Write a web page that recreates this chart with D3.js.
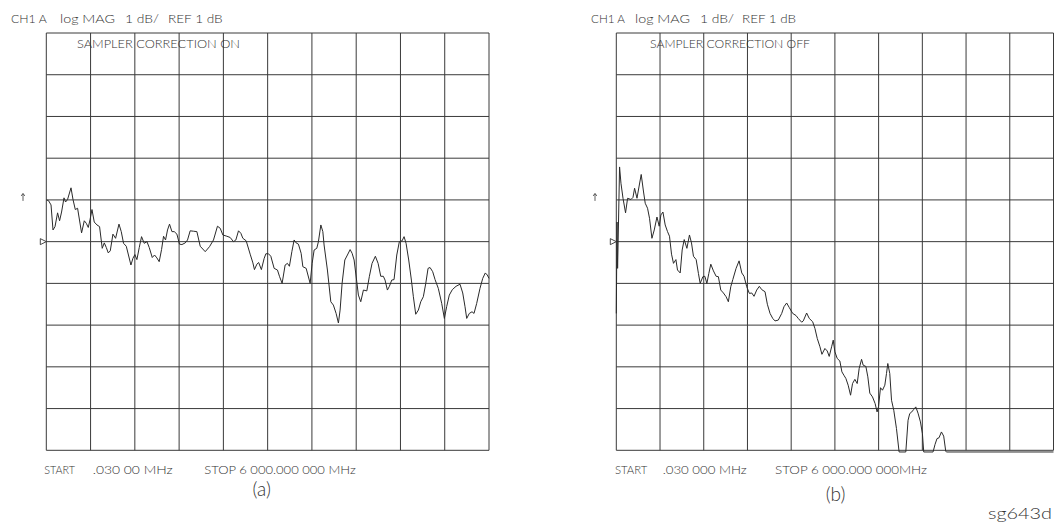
<!DOCTYPE html>
<html><head><meta charset="utf-8">
<script src="https://cdn.jsdelivr.net/npm/d3@7"></script>
<style>
html,body{margin:0;padding:0;background:#fff;}
svg{display:block;}
text{font-family:Lato,"DejaVu Sans",sans-serif;font-weight:300;fill:#333;}
</style>
</head><body>
<svg id="c" width="1054" height="523"></svg>
<script>
// ---------- data ----------
const startMHz = 0.03, stopMHz = 6000;
const refDb = 1, dbPerDiv = 1, divisions = 10;
const headerWords = ["CH1 A", "log MAG", "1 dB/", "REF 1 dB"];
const titles = ["SAMPLER CORRECTION ON", "SAMPLER CORRECTION OFF"];
const startWord = "START";
const startLabels = [".030 00 MHz", ".030 000 MHz"];
const stopLabels = ["STOP 6 000.000 000 MHz", "STOP 6 000.000 000MHz"];
const panelLabels = ["(a)", "(b)"];
const figureId = "sg643d";

// (a) sampler correction ON — frequency (MHz) and magnitude (dB)
const freqA = [4,31,64,91,118,153,180,207,240,261,288,335,362,393,424,478,515,542,569,592,619,650,687,722,758,786,813,840,867,903,939,985,1016,1047,1084,1147,1174,1201,1228,1260,1291,1327,1364,1395,1436,1467,1499,1530,1562,1589,1616,1643,1670,1703,1734,1770,1805,1838,1883,1914,1950,1995,2041,2086,2154,2212,2266,2320,2357,2393,2447,2492,2537,2569,2605,2637,2664,2709,2763,2800,2821,2854,2878,2915,2953,2976,3011,3043,3088,3133,3160,3196,3237,3268,3295,3328,3359,3386,3417,3454,3477,3522,3576,3603,3630,3666,3688,3721,3748,3765,3810,3856,3891,3928,3959,3982,4009,4046,4081,4118,4145,4172,4208,4230,4262,4298,4344,4379,4415,4460,4497,4533,4568,4591,4623,4650,4682,4713,4750,4785,4822,4849,4876,4912,4948,4975,5007,5043,5075,5110,5143,5174,5201,5237,5269,5313,5359,5395,5427,5462,5503,5553,5607,5644,5675,5698,5733,5770,5797,5833,5878,5915,5950,5977,6000];
const dbA = [2.00,1.98,1.88,1.28,1.36,1.69,1.50,1.71,2.05,1.95,2.01,2.29,2.01,1.77,1.80,1.21,1.50,1.44,1.34,1.52,1.77,1.47,1.40,1.36,0.84,0.97,0.86,0.73,0.78,1.18,1.08,1.42,1.24,0.96,0.89,0.44,0.60,0.69,0.57,0.86,1.12,0.96,1.00,0.86,0.62,0.68,0.61,0.52,0.81,1.13,1.04,1.28,1.42,1.24,1.24,1.18,0.94,0.93,0.97,1.04,1.26,1.25,1.24,0.89,0.76,0.88,1.04,1.37,1.32,1.16,1.13,1.10,1.00,1.04,1.26,1.20,1.08,1.02,0.70,0.49,0.33,0.46,0.50,0.33,0.60,0.71,0.71,0.65,0.36,0.32,0.17,0.00,0.44,0.48,0.41,0.76,1.04,0.97,0.94,0.72,0.40,0.36,0.00,0.48,0.80,0.84,1.00,1.40,1.24,0.92,0.32,-0.44,-0.52,-0.72,-0.95,-0.64,0.00,0.56,0.68,0.81,0.72,0.56,0.04,-0.28,-0.44,-0.16,-0.18,0.17,0.48,0.65,0.48,0.17,0.17,0.08,-0.16,-0.07,0.08,0.09,0.68,1.00,1.02,1.12,0.96,0.56,0.08,-0.32,-0.74,-0.64,-0.44,-0.32,0.00,0.36,0.38,0.28,0.09,-0.12,-0.48,-0.84,-0.55,-0.28,-0.15,-0.07,-0.02,-0.23,-0.56,-0.84,-0.72,-0.68,-0.72,-0.48,-0.12,0.12,0.25,0.20,0.12];

// (b) sampler correction OFF
const freqB = [0.03,10,18,45,64,92,127,155,201,229,251,284,311,342,374,397,429,456,489,521,558,589,612,640,671,703,730,758,785,818,840,877,904,932,969,1004,1032,1059,1096,1127,1151,1188,1215,1243,1270,1297,1333,1370,1401,1434,1470,1507,1538,1571,1599,1644,1685,1722,1753,1790,1826,1859,1890,1927,1963,1996,2041,2073,2110,2147,2178,2223,2270,2301,2338,2374,2421,2466,2497,2544,2566,2612,2648,2695,2726,2758,2795,2822,2863,2895,2922,2955,2977,3000,3032,3068,3096,3123,3151,3182,3215,3242,3274,3306,3333,3366,3388,3425,3452,3479,3516,3552,3579,3599,3626,3653,3685,3708,3726,3753,3777,3808,3845,3881,3973,4004,4027,4055,4082,4110,4141,4174,4201,4219,4347,4374,4401,4429,4462,4493,4521,4530,6000];
const dbB = [-0.72,1.47,0.36,2.79,2.40,2.04,1.69,2.04,2.01,2.06,2.28,2.04,2.31,2.61,2.19,1.92,1.80,1.56,1.08,1.28,1.59,1.37,1.64,1.71,1.40,1.24,1.13,0.70,0.48,0.57,0.32,0.25,0.80,1.05,0.84,1.16,0.97,0.65,0.57,0.24,0.00,0.16,0.17,0.00,0.24,0.46,0.30,0.17,0.16,-0.16,-0.23,-0.32,-0.44,-0.08,0.09,0.36,0.54,0.25,0.17,-0.08,-0.24,-0.23,-0.31,-0.16,-0.07,-0.15,-0.20,-0.50,-0.72,-0.84,-0.90,-0.88,-0.72,-0.56,-0.47,-0.58,-0.72,-0.77,-0.84,-0.93,-0.90,-0.71,-0.84,-0.92,-1.08,-1.32,-1.52,-1.70,-1.56,-1.62,-1.75,-1.52,-1.36,-1.64,-1.80,-1.86,-2.12,-2.20,-2.28,-2.44,-2.68,-2.40,-2.30,-2.40,-2.04,-1.82,-1.96,-1.99,-2.24,-2.63,-2.72,-2.88,-3.08,-2.95,-2.50,-2.56,-2.44,-2.16,-1.92,-2.16,-2.80,-3.04,-3.48,-4.04,-4.04,-3.28,-3.12,-3.08,-3.02,-2.96,-3.11,-3.32,-3.60,-4.04,-4.04,-3.86,-3.72,-3.70,-3.56,-3.66,-4.02,-4.04,-4.04];

// ---------- layout ----------
const panels = [
  {freq: freqA, db: dbA, title: titles[0], start: startLabels[0], stop: stopLabels[0], label: panelLabels[0],
   x0: 46.3, x1: 489, y0: 33, y1: 450.3,
   hx: [11, 60, 125, 168], hw: [35.7, 55, 34, 54.7], hy: 22.5,
   tx: 77, tw: 163, ty: 47.5,
   sx: [44.3, 92.7, 204.3], sw: [30.7, 80, 151.4], sy: 473.5,
   lx: 261.7, ly: 496, ax: 23},
  {freq: freqB, db: dbB, title: titles[1], start: startLabels[1], stop: stopLabels[1], label: panelLabels[1],
   x0: 616.3, x1: 1053.5, y0: 33, y1: 450.3,
   hx: [591, 635, 700, 742], hw: [34, 55, 34, 54], hy: 22.5,
   tx: 650, tw: 160, ty: 47.5,
   sx: [615, 662.7, 775], sw: [32.3, 84, 152], sy: 474,
   lx: 835.5, ly: 500.5, ax: 595}
];

const svg = d3.select("#c");
const topDb = refDb + dbPerDiv * divisions / 2;
const botDb = refDb - dbPerDiv * divisions / 2;

panels.forEach(p => {
  const x = d3.scaleLinear().domain([startMHz, stopMHz]).range([p.x0, p.x1]);
  const y = d3.scaleLinear().domain([botDb, topDb]).range([p.y1, p.y0]);
  const g = svg.append("g");

  const xt = d3.range(divisions + 1).map(i => startMHz + i * (stopMHz - startMHz) / divisions);
  const yt = d3.range(divisions + 1).map(i => botDb + i * dbPerDiv);

  g.selectAll("line.v").data(xt).join("line")
    .attr("x1", d => x(d)).attr("x2", d => x(d))
    .attr("y1", p.y0).attr("y2", p.y1)
    .attr("stroke", "#3a3a3a").attr("stroke-width", 1);
  g.selectAll("line.h").data(yt).join("line")
    .attr("x1", p.x0).attr("x2", p.x1)
    .attr("y1", d => y(d)).attr("y2", d => y(d))
    .attr("stroke", "#3a3a3a").attr("stroke-width", 1);

  // trace
  const pts = p.freq.map((f, i) => [f, p.db[i]]);
  g.append("path").datum(pts)
    .attr("d", d3.line().x(d => x(d[0])).y(d => y(d[1])))
    .attr("fill", "none").attr("stroke", "#2a2a2a").attr("stroke-width", 1);

  // reference marker triangle at REF value
  const ry = y(refDb);
  g.append("path")
    .attr("d", `M${p.x0 - 6},${ry - 3}L${p.x0},${ry}L${p.x0 - 6},${ry + 3}Z`)
    .attr("fill", "none").attr("stroke", "#333").attr("stroke-width", 0.9);
  // small arrow marker
  const ay = y(refDb + dbPerDiv) - 3;
  g.append("path")
    .attr("d", `M${p.ax},${ay + 4}L${p.ax},${ay - 3}M${p.ax - 1.8},${ay - 1}L${p.ax},${ay - 3.5}L${p.ax + 1.8},${ay - 1}`)
    .attr("fill", "none").attr("stroke", "#333").attr("stroke-width", 0.8);

  // header
  headerWords.forEach((w, i) => {
    g.append("text").attr("x", p.hx[i]).attr("y", p.hy)
      .attr("font-size", 12).attr("textLength", p.hw[i]).attr("lengthAdjust", "spacingAndGlyphs")
      .text(w);
  });
  g.append("text").attr("x", p.tx).attr("y", p.ty).attr("font-size", 11.5)
    .attr("textLength", p.tw).attr("lengthAdjust", "spacingAndGlyphs").text(p.title);

  [startWord, p.start, p.stop].forEach((w, i) => {
    g.append("text").attr("x", p.sx[i]).attr("y", p.sy).attr("font-size", 11.5)
      .attr("textLength", p.sw[i]).attr("lengthAdjust", "spacingAndGlyphs").text(w);
  });
  g.append("text").attr("x", p.lx).attr("y", p.ly).attr("text-anchor", "middle")
    .attr("font-size", 19).text(p.label);
});

svg.append("text").attr("x", 988).attr("y", 518.5).attr("font-size", 16)
  .attr("textLength", 64).attr("lengthAdjust", "spacingAndGlyphs").text(figureId);
</script>
</body></html>
